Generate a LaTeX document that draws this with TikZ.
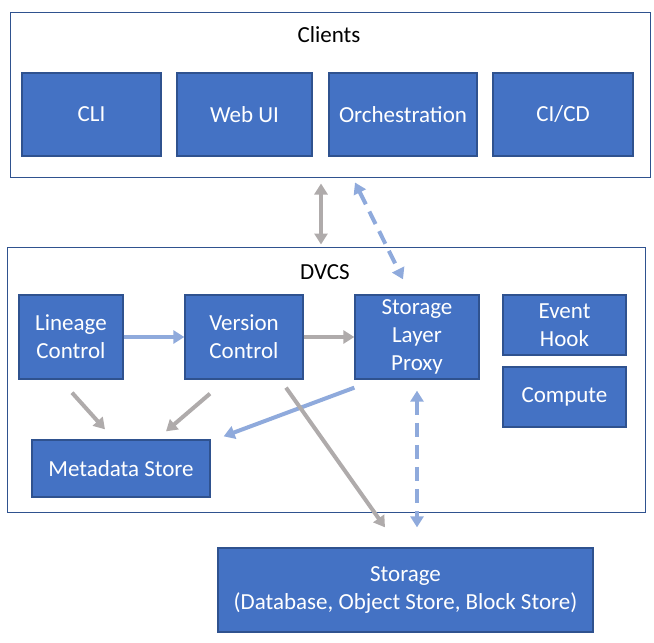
\documentclass[tikz,border=0pt]{standalone}
\usepackage{fontspec}
\setmainfont{Carlito}
\usepackage{tikz}
\usetikzlibrary{arrows.meta,positioning,calc}
\definecolor{boxblue}{HTML}{4472C4}
\definecolor{boxedge}{HTML}{2F528F}
\definecolor{lineblue}{HTML}{8FAADC}
\definecolor{linegray}{HTML}{AFABAB}
\tikzstyle{block} = [draw=boxedge, line width=1.3pt, fill=boxblue, text=white, align=center, inner sep=0pt]
\tikzstyle{frame} = [draw=boxedge, line width=1pt, inner sep=0pt]
\tikzstyle{title} = [text=black, inner sep=0pt]
\tikzstyle{grayarrow} = [line width=4pt, color=linegray, ->, >={Triangle[width=13pt,length=11pt]}]
\tikzstyle{bluearrow} = [line width=4pt, color=lineblue, ->, >={Triangle[width=13pt,length=11pt]}]
\tikzstyle{bluedash} = [bluearrow, <->, dash pattern=on 14pt off 8pt]

\begin{document}
\begin{tikzpicture}[x=1pt, y=-1pt, font=\fontsize{23}{28}\selectfont]
\useasboundingbox (0,0) rectangle (654,643);

% Clients
\node[frame, minimum width=640pt, minimum height=165pt] (clients) at (330,94.5) {};
\node[title] (clientstitle) at (329,35) {Clients};
\node[block, minimum width=139pt, minimum height=83pt] (cli) at (91.5,114.5) {CLI};
\node[block, minimum width=135pt, minimum height=83pt] (webui) at (244.5,114.5) {Web UI};
\node[block, minimum width=148pt, minimum height=83pt] (orch) at (403,114.5) {Orchestration};
\node[block, minimum width=140pt, minimum height=83pt] (cicd) at (563,114.5) {CI/CD};

% DVCS
\node[frame, minimum width=638pt, minimum height=265pt] (dvcs) at (326,379.5) {};
\node[title] (dvcstitle) at (325,272) {DVCS};
\node[block, minimum width=104pt, minimum height=84pt] (lin) at (71,337) {Lineage\\Control};
\node[block, minimum width=118pt, minimum height=84pt] (ver) at (244,337) {Version\\Control};
\node[block, minimum width=124pt, minimum height=84pt] (slp) at (417,337) {Storage\\Layer\\Proxy};
\node[block, minimum width=123pt, minimum height=60pt] (evt) at (564.5,325) {Event\\Hook};
\node[block, minimum width=123pt, minimum height=60pt] (comp) at (564.5,397) {Compute};
\node[block, minimum width=178pt, minimum height=57pt] (meta) at (121,468.5) {Metadata Store};

% Storage
\node[block, minimum width=375pt, minimum height=84pt] (stor) at (405.5,590) {Storage\\(Database, Object Store, Block Store)};

% Links
\draw[grayarrow, <->] ($(clients.south)+(-9,6)$) -- ($(dvcs.north)+(-5,-2)$);
\draw[bluedash] ($(clients.south)+(25,5)$) -- ($(slp.north)+(-14,-15)$);
\draw[bluearrow] (lin.east) -- (ver.west);
\draw[grayarrow] (ver.east) -- (slp.west);
\draw[grayarrow] ($(lin.south)+(1,13)$) -- ($(meta.north)+(-16,-10)$);
\draw[grayarrow] ($(ver.south)+(-34,14)$) -- ($(meta.north)+(45,-8)$);
\draw[bluearrow] ($(slp.south west)+(0,8)$) -- ($(meta.north east)+(13,-3)$);
\draw[grayarrow] ($(ver.south)+(42,8)$) -- ($(stor.north)+(-20.5,-20)$);
\draw[bluedash] ($(slp.south)+(0,11)$) -- ($(stor.north)+(11.5,-20)$);
\end{tikzpicture}
\end{document}
